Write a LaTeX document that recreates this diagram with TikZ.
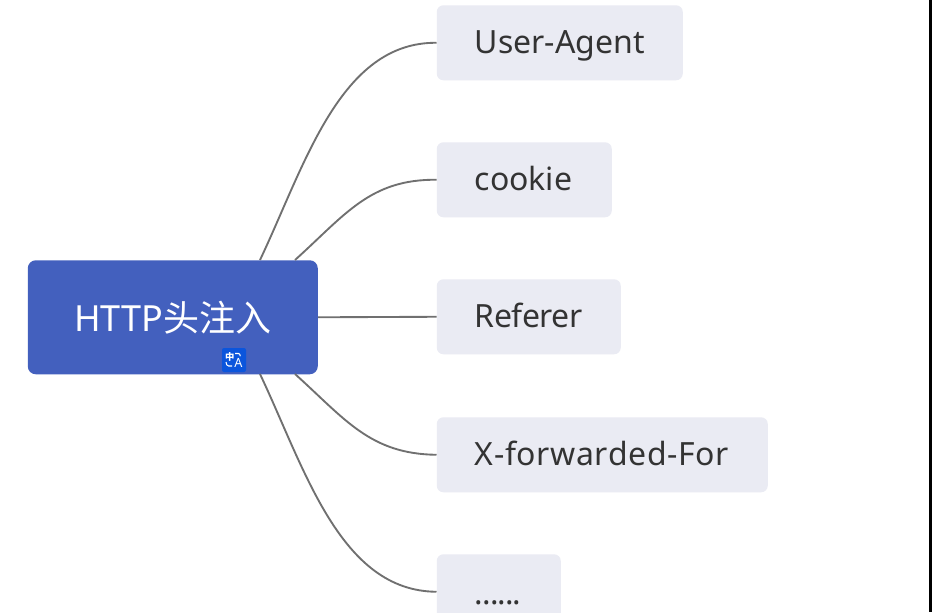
\documentclass[tikz,border=0pt]{standalone}
\usepackage{fontspec}
\setmainfont{Noto Sans}
\newfontfamily\cjk{Noto Sans CJK SC}
\definecolor{rootblue}{HTML}{4360BE}
\definecolor{leaf}{HTML}{EAEBF3}
\definecolor{wire}{HTML}{707070}
\definecolor{ink}{HTML}{333333}
\definecolor{iconblue}{HTML}{0B55DC}
\begin{document}
\begin{tikzpicture}[x=0.75pt,y=-0.75pt,
  leafbox/.style={fill=leaf,rounded corners=5pt,inner xsep=28.5pt,inner ysep=0pt,anchor=north west,minimum height=56.25pt,text=ink,font=\fontsize{24}{28}\selectfont,align=left,text height=19.5pt,text depth=3.5pt},
  wirel/.style={draw=wire,line width=1.4pt},
  iconarc/.style={draw=white,line width=0.8pt}]
\useasboundingbox (0,0) rectangle (932,612);
\fill[white] (0,0) rectangle (932,612);
\begin{scope}
\clip (0,0) rectangle (932,612);
\node[fill=rootblue,rounded corners=6pt,minimum width=217.5pt,minimum height=85.5pt,inner sep=0pt,anchor=north west,text=white,font=\fontsize{27}{32}\selectfont] (root) at (27.5,260) {HTTP{\cjk 头注入}};
\node[leafbox,text width=127.5pt] (ua) at (436.5,5) {User-Agent};
\node[leafbox,text width=74.25pt] (ck) at (436.5,142) {cookie};
\node[leafbox,text width=81pt] (rf) at (436.5,279) {\addfontfeature{LetterSpace=-1.5}Referer};
\node[leafbox,text width=191.25pt] (xf) at (436.5,417) {\addfontfeature{LetterSpace=2}X-forwarded-For};
\node[leafbox,text width=36pt,text height=21pt,text depth=2pt] (dots) at (436.5,554) {\addfontfeature{LetterSpace=-3}......};
\coordinate (r1) at (260,260);
\coordinate (r2) at (295,260);
\coordinate (r4) at (295,374);
\coordinate (r5) at (260,374);
\draw[wirel] (r1) .. controls (305,165) and (340,42) .. (ua.west);
\draw[wirel] (r2) .. controls (345,215) and (370,179) .. (ck.west);
\draw[wirel] (root.east) -- (rf.west);
\draw[wirel] (r4) .. controls (345,419) and (370,454) .. (xf.west);
\draw[wirel] (r5) .. controls (305,469) and (340,591) .. (dots.west);
\node[fill=iconblue,rounded corners=1.5pt,minimum size=18pt,inner sep=0pt] (icon) at (234,360) {};
\node[text=white,font=\cjk\bfseries\fontsize{7}{7}\selectfont,inner sep=0pt] (iconzh) at (229.7,357) {中};
\node[text=white,font=\fontsize{9.5}{9.5}\selectfont,inner sep=0pt] (iconA) at (238.5,362.5) {A};
\draw[iconarc] (235,353.5) -- (238.5,353.5) arc (90:0:1.35pt and 2pt);
\draw[iconarc] (226,362) arc (180:270:2pt and 3pt) -- (232,366);
\fill[black] (929,0) rectangle (932,612);
\end{scope}
\end{tikzpicture}
\end{document}
